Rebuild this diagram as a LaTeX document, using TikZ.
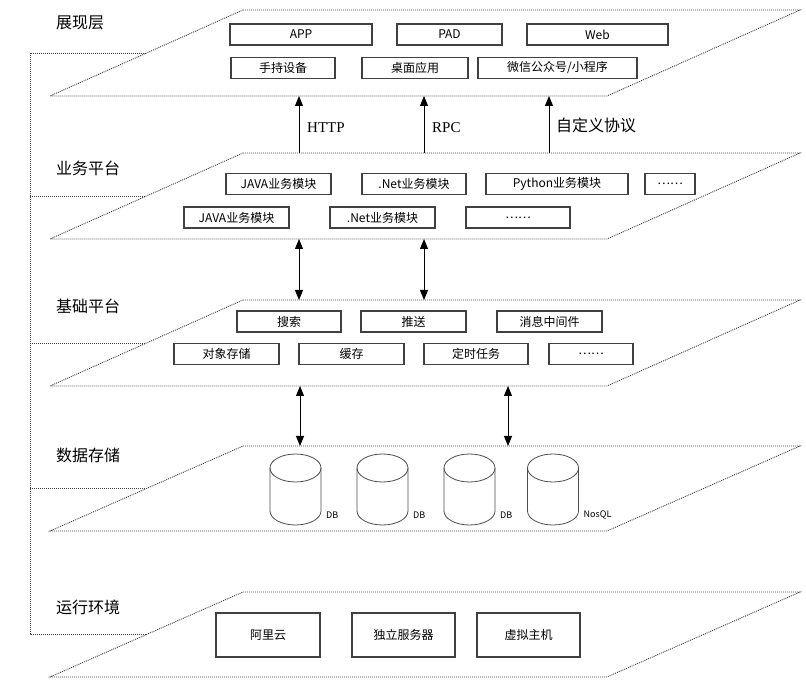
\documentclass[tikz,border=0pt]{standalone}
\usepackage{fontspec}
\setmainfont{Noto Sans CJK SC}
\newfontfamily\latinserif{Liberation Serif}
\usetikzlibrary{arrows.meta}
\tikzstyle{layer}=[draw=black!75, line width=0.9pt, dash pattern=on 1pt off 1pt]
\tikzstyle{modbox}=[draw=black!75, line width=1.3pt, inner sep=0pt, minimum height=21pt, font=\fontsize{12}{13}\selectfont]
\tikzstyle{envbox}=[modbox, minimum height=44pt]
\tikzstyle{title}=[anchor=west, inner sep=0pt, font=\fontsize{16}{18}\selectfont]
\tikzstyle{proto}=[anchor=west, inner sep=0pt, font=\latinserif\fontsize{15}{17}\selectfont]
\tikzstyle{link}=[line width=1pt, >={Triangle[length=10pt, width=8pt]}]
\tikzstyle{cyl}=[draw=black!70, line width=0.8pt]
\tikzstyle{dblabel}=[anchor=west, inner sep=0pt, font=\fontsize{9}{10}\selectfont]

\begin{document}
\begin{tikzpicture}[x=1pt, y=-1pt]
      \useasboundingbox (0,0) rectangle (806,684);
      % layers
      \draw[layer] (243,10) -- (800,10) -- (607,96) -- (50,96) -- cycle;
      \draw[layer] (243,153) -- (800,153) -- (607,239) -- (50,239) -- cycle;
      \draw[layer] (243,300) -- (800,300) -- (607,386) -- (50,386) -- cycle;
      \draw[layer] (243,446) -- (800,446) -- (607,531) -- (50,531) -- cycle;
      \draw[layer] (243,592) -- (800,592) -- (607,677) -- (50,677) -- cycle;
      \draw[layer] (146,53) -- (30,53) -- (30,634) -- (146,634);
      \draw[layer] (30,196) -- (146,196);
      \draw[layer] (30,343) -- (146,343);
      \draw[layer] (30,488) -- (146,488);
      \node(L1) [title] at (56,23){展现层};
      \node(L2) [title] at (56,168){业务平台};
      \node(L3) [title] at (56,306){基础平台};
      \node(L4) [title] at (56,455){数据存储};
      \node(L5) [title] at (56,607){运行环境};
      % presentation
      \node(app) [modbox, minimum width=142pt] at (301,34.5){APP};
      \node(pad) [modbox, minimum width=105pt] at (449.5,34.5){PAD};
      \node(web) [modbox, minimum width=141pt] at (597.5,34.5){Web};
      \node(hand) [modbox, minimum width=104pt] at (283,68){手持设备};
      \node(desk) [modbox, minimum width=106pt] at (415,68){桌面应用};
      \node(wx) [modbox, minimum width=159pt] at (557.5,68){微信公众号/小程序};
      % business
      \node(java1) [modbox, minimum width=105pt] at (278.5,184){JAVA业务模块};
      \node(net1) [modbox, minimum width=104pt] at (414,184){.Net业务模块};
      \node(py) [modbox, minimum width=142pt] at (557,184){Python业务模块};
      \node(more1) [modbox, minimum width=50pt] at (670,184){……};
      \node(java2) [modbox, minimum width=105pt] at (236.5,217.5){JAVA业务模块};
      \node(net2) [modbox, minimum width=105pt] at (382.5,217.5){.Net业务模块};
      \node(more2) [modbox, minimum width=104pt] at (518,217.5){……};
      % base
      \node(search) [modbox, minimum width=104pt] at (289,321.5){搜索};
      \node(push) [modbox, minimum width=105pt] at (413.5,321.5){推送};
      \node(mq) [modbox, minimum width=105pt] at (549.5,321.5){消息中间件};
      \node(oss) [modbox, minimum width=105pt] at (226.5,354){对象存储};
      \node(cache) [modbox, minimum width=105pt] at (351.5,354){缓存};
      \node(job) [modbox, minimum width=104pt] at (476,354){定时任务};
      \node(more3) [modbox, minimum width=84pt] at (591,354){……};
      % storage
      \foreach \cx/\nm/\txt in {295.5/db1/DB, 382.5/db2/DB, 469.5/db3/DB, 553/nosql/NosQL}{
        \draw[cyl] (\cx,468) ellipse [x radius=25.5pt, y radius=14pt];
        \draw[cyl] (\cx-25.5,468) -- (\cx-25.5,511) arc [start angle=180, end angle=360, x radius=25.5pt, y radius=14pt] -- (\cx+25.5,468);
        \node(\nm) [dblabel] at (\cx+30.5,515){\txt};
      }
      % runtime
      \node(ali) [envbox, minimum width=104pt] at (268,635){阿里云};
      \node(server) [envbox, minimum width=103pt] at (403.5,635){独立服务器};
      \node(vhost) [envbox, minimum width=103pt] at (528.5,635){虚拟主机};
      % links
      \coordinate (u1) at (299,96);  \coordinate (d1) at (299,153);
      \coordinate (u2) at (424,96);  \coordinate (d2) at (424,153);
      \coordinate (u3) at (549,96);  \coordinate (d3) at (549,153);
      \coordinate (u4) at (299,239); \coordinate (d4) at (299,300);
      \coordinate (u5) at (424,239); \coordinate (d5) at (424,300);
      \coordinate (u6) at (300,386); \coordinate (d6) at (300,446);
      \coordinate (u7) at (508,386); \coordinate (d7) at (508,446);
      \draw[link, ->] (d1) to (u1);
      \draw[link, ->] (d2) to (u2);
      \draw[link, ->] (d3) to (u3);
      \draw[link, <->] (u4) to (d4);
      \draw[link, <->] (u5) to (d5);
      \draw[link, <->] (u6) to (d6);
      \draw[link, <->] (u7) to (d7);
      \node(http) [proto] at (307,128){HTTP};
      \node(rpc) [proto] at (432,128){RPC};
      \node(self) [anchor=west, inner sep=0pt, font=\fontsize{16}{18}\selectfont] at (556,125){自定义协议};
\end{tikzpicture}
\end{document}
